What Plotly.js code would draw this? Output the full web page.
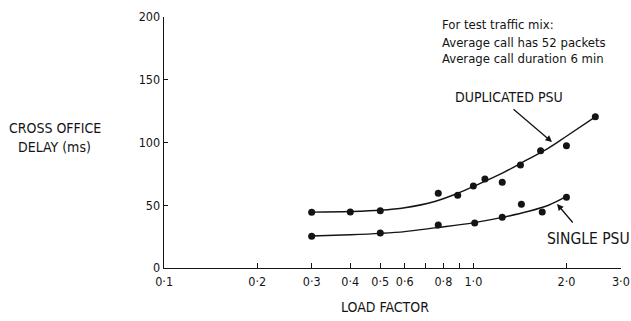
<!DOCTYPE html>
<html><head><meta charset="utf-8">
<script src="https://cdn.plot.ly/plotly-3.0.1.min.js"></script>
<style>body{margin:0;background:#fff}#c{width:631px;height:321px}</style>
</head><body><div id="c"></div>
<script>
// measured points
const dupX = [0.3, 0.4, 0.5, 0.77, 0.89, 1.0, 1.09, 1.24, 1.42, 1.65, 2.0, 2.48];
const dupY = [44.4, 44.6, 45.7, 59.5, 58, 65.3, 71, 68.3, 82, 93.4, 97.5, 120.6];
const sglX = [0.3, 0.5, 0.77, 1.01, 1.24, 1.43, 1.67, 2.0];
const sglY = [25.3, 27.8, 34.3, 35.9, 40.4, 50.8, 44.6, 56.3];
// fitted curves
const dupCurveX = [0.3, 0.4, 0.5, 0.6, 0.75, 0.9, 1.0, 1.25, 1.5, 1.75, 2.0, 2.5];
const dupCurveY = [44.5, 45, 46, 48, 53, 60, 65, 76, 86.5, 95.5, 105, 121];
const sglCurveX = [0.3, 0.4, 0.5, 0.6, 0.75, 1.0, 1.25, 1.5, 1.75, 2.0];
const sglCurveY = [25.5, 26.5, 27.6, 29, 32, 36, 40.5, 45, 50, 57];
// ticks
const xTickVals = [0.1, 0.2, 0.3, 0.4, 0.5, 0.6, 0.7, 0.8, 0.9, 1, 2, 3];
const xTickText = ["0·1", "0·2", "0·3", "0·4", "0·5", "0·6", "", "0·8", "", "1·0", "2·0", "3·0"];
const yTickVals = [0, 50, 100, 150, 200];

const F = "DejaVu Sans Condensed, Liberation Sans Narrow, Arial Narrow, sans-serif";
const ink = "#141414";
const line = {color: ink, width: 1.4, shape: "spline", smoothing: 1};
const mk = {color: ink, size: 7};

const traces = [
  {x: dupCurveX, y: dupCurveY, mode: "lines", line: line, hoverinfo: "skip"},
  {x: sglCurveX, y: sglCurveY, mode: "lines", line: line, hoverinfo: "skip"},
  {x: dupX, y: dupY, mode: "markers", marker: mk},
  {x: sglX, y: sglY, mode: "markers", marker: mk}
];

const W = 457, H = 251, L = 164, T = 17;
const px = v => (v - L) / W, py = v => (T + H - v) / H;
function txt(t, x, y, anchor, size) {
  return {text: t, xref: "paper", yref: "paper", x: px(x), y: py(y), xanchor: anchor || "left",
          yanchor: "middle", showarrow: false, font: {family: F, size: size || 14, color: ink}};
}
const ann = [
  txt("For test traffic mix:", 440, 25, "left", 13),
  txt("Average call has 52 packets", 440, 42, "left", 13),
  txt("Average call duration 6 min", 440, 59, "left", 13),
  txt("DUPLICATED PSU", 453, 97, "left", 14),
  txt("SINGLE PSU", 545, 239, "left", 15.5),
  txt("CROSS OFFICE", 55, 128, "center", 14),
  txt("DELAY (ms)", 54, 147, "center", 14),
  txt("LOAD FACTOR", 385, 307, "center", 14),
  {text: "", xref: "paper", yref: "paper", x: px(552), y: py(142), ax: -40, ay: -34,
   showarrow: true, arrowhead: 2, arrowsize: 1, arrowwidth: 1.3, arrowcolor: ink},
  {text: "", xref: "paper", yref: "paper", x: px(557), y: py(204), ax: 17, ay: 20,
   showarrow: true, arrowhead: 2, arrowsize: 1, arrowwidth: 1.3, arrowcolor: ink}
];

const layout = {
  width: 631, height: 321,
  margin: {l: L, r: 631 - L - W, t: T, b: 321 - T - H},
  paper_bgcolor: "#fff", plot_bgcolor: "#fff",
  showlegend: false,
  font: {family: F, size: 12, color: ink},
  xaxis: {type: "log", range: [-1.0005, 0.4775], tickmode: "array", tickvals: xTickVals, ticktext: xTickText,
          ticks: "inside", ticklen: 5, tickwidth: 1.2, tickcolor: ink, showline: true, linecolor: ink, linewidth: 1.4,
          showgrid: false, zeroline: false, ticklabelstandoff: 2, ticklabeloverflow: "allow",
          tickfont: {family: F, size: 12.5, color: ink}},
  yaxis: {range: [0, 200], tickmode: "array", tickvals: yTickVals,
          ticks: "inside", ticklen: 4, tickwidth: 1.2, tickcolor: ink, showline: true, linecolor: ink, linewidth: 1.4,
          showgrid: false, zeroline: false, tickfont: {family: F, size: 12.5, color: ink}},
  annotations: ann
};
Plotly.newPlot("c", traces, layout, {staticPlot: true, displayModeBar: false});
</script></body></html>
